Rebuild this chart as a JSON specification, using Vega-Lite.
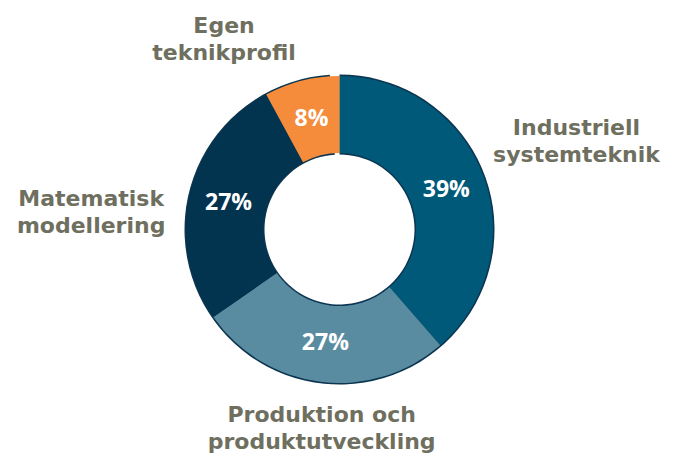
{
  "$schema": "https://vega.github.io/schema/vega-lite/v6.json",
  "width": 679,
  "height": 449,
  "autosize": "none",
  "padding": {"top": 5, "left": 0, "right": 0, "bottom": 0},
  "background": "white",
  "config": {"view": {"stroke": null}},
  "datasets": {
    "andelar": [
      {"nr": 1, "kategori": "Industriell systemteknik", "etikett": "Industriell\nsystemteknik", "andel": 0.39},
      {"nr": 2, "kategori": "Produktion och produktutveckling", "etikett": "Produktion och\nproduktutveckling", "andel": 0.27},
      {"nr": 3, "kategori": "Matematisk modellering", "etikett": "Matematisk\nmodellering", "andel": 0.27},
      {"nr": 4, "kategori": "Egen teknikprofil", "etikett": "Egen\nteknikprofil", "andel": 0.08}
    ],
    "ring": [{"helhet": 1}]
  },
  "layer": [
    {
      "data": {"name": "ring"},
      "mark": {"type": "arc", "radius": 155, "radius2": 75, "fill": "#0b3550", "stroke": null},
      "encoding": {"theta": {"field": "helhet", "type": "quantitative"}}
    },
    {
      "data": {"name": "andelar"},
      "mark": {"type": "arc", "radius": 153.5, "radius2": 76.5, "stroke": null},
      "encoding": {
        "theta": {"field": "andel", "type": "quantitative", "stack": true},
        "order": {"field": "nr", "type": "quantitative"},
        "color": {
          "field": "kategori",
          "type": "nominal",
          "scale": {
            "domain": ["Industriell systemteknik", "Produktion och produktutveckling", "Matematisk modellering", "Egen teknikprofil"],
            "range": ["#01597a", "#5a8ca1", "#02334f", "#f48c3b"]
          },
          "legend": null
        }
      }
    },
    {
      "data": {"name": "andelar"},
      "mark": {"type": "text", "radius": 114, "font": "Open Sans", "fontWeight": "bold", "fontSize": 23, "fill": "white", "align": "center", "baseline": "middle"},
      "encoding": {
        "theta": {"field": "andel", "type": "quantitative", "stack": true},
        "order": {"field": "nr", "type": "quantitative"},
        "detail": {"field": "kategori", "type": "nominal"},
        "text": {"field": "andel", "type": "quantitative", "format": ".0%"}
      }
    },
    {
      "data": {"name": "andelar"},
      "mark": {
        "type": "text",
        "font": "DejaVu Sans",
        "fontWeight": "bold",
        "fontSize": 22,
        "lineHeight": 27,
        "lineBreak": "\n",
        "fill": "#6f6f60",
        "align": "center",
        "baseline": "middle",
        "radius": {"expr": "datum.nr == 1 ? 253 : datum.nr == 2 ? 200 : datum.nr == 3 ? 246 : 213"},
        "dx": {"expr": "datum.nr == 2 ? 7 : datum.nr == 3 ? -9 : datum.nr == 4 ? -63 : 0"},
        "dy": {"expr": "datum.nr == 2 ? -12.5 : datum.nr == 3 ? 26.5 : datum.nr == 4 ? 2.5 : -12.5"}
      },
      "encoding": {
        "theta": {"field": "andel", "type": "quantitative", "stack": true},
        "order": {"field": "nr", "type": "quantitative"},
        "detail": {"field": "kategori", "type": "nominal"},
        "text": {"field": "etikett", "type": "nominal"}
      }
    }
  ]
}
